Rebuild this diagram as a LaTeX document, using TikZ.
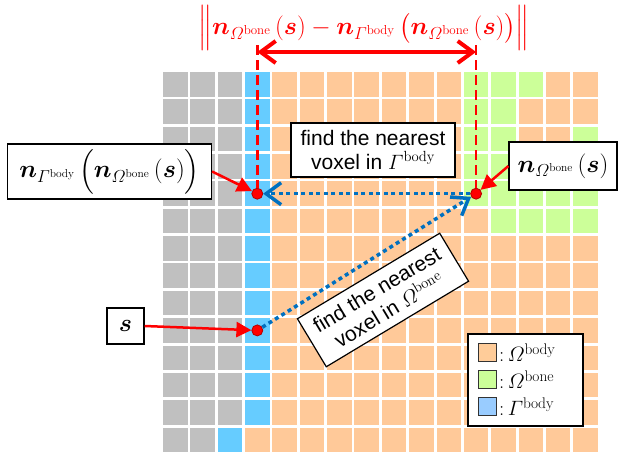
\documentclass[tikz,border=0pt]{standalone}
\usepackage{amsmath,bm}
\usepackage{fontspec}
\newfontfamily\labelfont{Liberation Sans}
\usetikzlibrary{arrows.meta}

\definecolor{bodycol}{HTML}{FFC999}
\definecolor{bonecol}{HTML}{CCFF99}
\definecolor{surfcol}{HTML}{66CCFF}
\definecolor{restcol}{HTML}{C0C0C0}
\definecolor{pathblue}{HTML}{0070C0}
\definecolor{legbody}{HTML}{FFCC99}
\definecolor{legsurf}{HTML}{99CCFF}

\begin{document}
\begin{tikzpicture}[
    x=1pt, y=-1pt,
    >={Straight Barb[length=15pt,width=22pt]},
    every node/.style={font=\fontsize{22}{26}\selectfont},
    labelbox/.style={
        draw,
        line width=1.2pt,
        fill=white,
        inner sep=4pt
    },
    mathbox/.style={labelbox, font=\fontsize{23}{27}\selectfont},
    textbox/.style={
        labelbox,
        align=center,
        font=\labelfont\fontsize{21}{24}\selectfont
    },
    dot/.style={
        circle,
        draw=red!70!black,
        fill=red,
        line width=0.8pt,
        inner sep=0pt,
        minimum size=11pt
    },
    legkey/.style={draw=black!80, line width=1pt, minimum size=18pt, inner sep=0pt},
    redarr/.style={-{Triangle[length=15pt,width=15pt]}, red, line width=2.5pt},
    bluearr/.style={->, pathblue, line width=3.5pt, dash pattern=on 4pt off 3.5pt},
    guide/.style={red, line width=2.5pt, dash pattern=on 10pt off 5pt}
]
    \useasboundingbox (0,0) rectangle (625,455);

    % Voxel grid
    \foreach \c in {3,...,15}
        \foreach \r in {0,...,13}
            \fill[bodycol] ({163+27.35*\c},{72+27.35*\r}) rectangle ++(24.5,24.5);
    \foreach \c in {0,1,2}
        \foreach \r in {0,...,12}
            \fill[restcol] ({163+27.35*\c},{72+27.35*\r}) rectangle ++(24.5,24.5);
    \foreach \c in {0,1}
        \fill[restcol] ({163+27.35*\c},{72+27.35*13}) rectangle ++(24.5,24.5);
    \foreach \c/\r in {3/0,3/1,3/2,3/3,3/4,3/5,3/6,3/7,3/8,3/9,3/10,3/11,3/12,2/13}
        \fill[surfcol] ({163+27.35*\c},{72+27.35*\r}) rectangle ++(24.5,24.5);
    \foreach \c/\r in {11/0,12/0,13/0,11/1,12/1,11/2,12/2,15/2,
                       11/3,12/3,13/3,14/3,15/3,11/4,12/4,13/4,14/4,15/4,
                       12/5,13/5,14/5,15/5}
        \fill[bonecol] ({163+27.35*\c},{72+27.35*\r}) rectangle ++(24.5,24.5);

    % Points
    \node[dot] (bnd) at (257.3,193.7) {};
    \node[dot] (bone) at (476.1,193.7) {};
    \node[dot] (src) at (257.3,330.4) {};

    % Distance on top
    \node[text=red, font=\fontsize{26}{26}\selectfont, inner sep=0pt] (dist) at (364,28)
        {$\left\|\vrule height 23pt depth 0pt width 0pt \bm{n}_{\varOmega^{\mathrm{bone}}}\,(\bm{s}) - \bm{n}_{\varGamma^{\mathrm{body}}}\,\bigl(\bm{n}_{\varOmega^{\mathrm{bone}}}\,(\bm{s})\bigr)\right\|$};
    \coordinate (bndtop) at (257.3,45);
    \coordinate (bonetop) at (476.1,45);
    \coordinate (gapl) at (257.3,52);
    \coordinate (gapr) at (476.1,52);
    \draw[guide] (bndtop) -- (bnd);
    \draw[guide] (bonetop) -- (bone);
    \draw[red, line width=4pt, <->] (gapl) -- (gapr);

    % Search paths
    \draw[bluearr] (src) -- (bone);
    \draw[bluearr] (bone) -- (bnd);

    \node[textbox, minimum width=164pt, minimum height=54pt] (findgam) at (373,150)
        {find the nearest\\ voxel in {\rmfamily$\varGamma^{\mathrm{body}}$}};

    \node[textbox, minimum width=166pt, minimum height=56pt, rotate=31] (findome) at (383,300)
        {find the nearest\\ voxel in {\rmfamily$\varOmega^{\mathrm{bone}}$}};

    % Labels
    \node[mathbox, minimum width=204pt, minimum height=55pt] (lbl gam) at (109.5,171.5)
        {$\bm{n}_{\varGamma^{\mathrm{body}}}\,\Bigl(\bm{n}_{\varOmega^{\mathrm{bone}}}\,(\bm{s})\Bigr)$};
    \node[mathbox, minimum width=108pt, minimum height=48pt] (lbl ome) at (563,166)
        {$\bm{n}_{\varOmega^{\mathrm{bone}}}\,(\bm{s})$};
    \node[mathbox, minimum width=37pt, minimum height=36pt] (lbl s) at (125.5,326)
        {$\bm{s}$};

    \draw[redarr] (lbl gam.east) -- (bnd);
    \draw[redarr] (lbl ome.west) -- (bone);
    \draw[redarr] (lbl s.east) -- (src);

    % Legend
    \node[labelbox, minimum width=115pt, minimum height=92pt] (legend) at (525.5,380) {};
    \node[legkey, fill=legbody] (key body) at (487.5,352.5) {};
    \node[legkey, fill=bonecol] (key bone) at (487.5,379.5) {};
    \node[legkey, fill=legsurf] (key surf) at (487.5,406.5) {};
    \node[anchor=west, inner sep=2pt] (txt body) at (key body.east) {${:}\,\varOmega^{\mathrm{body}}$};
    \node[anchor=west, inner sep=2pt] (txt bone) at (key bone.east) {${:}\,\varOmega^{\mathrm{bone}}$};
    \node[anchor=west, inner sep=2pt] (txt surf) at (key surf.east) {${:}\,\varGamma^{\mathrm{body}}$};

\end{tikzpicture}
\end{document}
